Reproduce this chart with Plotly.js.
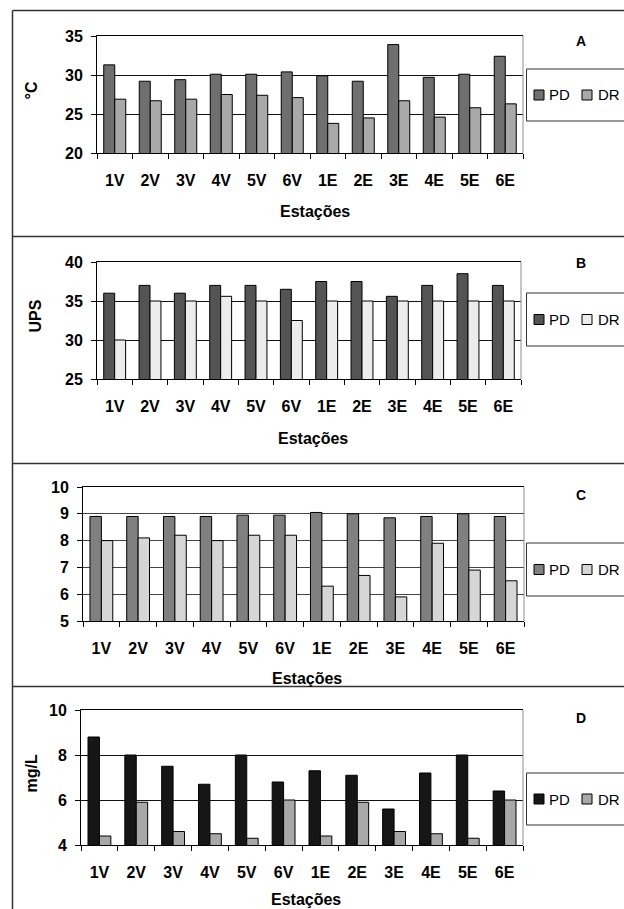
<!DOCTYPE html>
<html>
<head>
<meta charset="utf-8">
<script src="https://cdn.plot.ly/plotly-3.0.1.min.js"></script>
<style>
  html, body { margin: 0; padding: 0; background: #fff; }
  #chart { width: 624px; height: 909px; }
</style>
</head>
<body>
<div id="chart"></div>
<script>
// ---- data ----
const estacoes = ['1V','2V','3V','4V','5V','6V','1E','2E','3E','4E','5E','6E'];
const seriesNames = ['PD', 'DR'];
const panelLetters = ['A', 'B', 'C', 'D'];
const yTitles = ['°C', 'UPS', '', 'mg/L'];
const xTitle = 'Estações';

const tempPD = [31.3, 29.2, 29.4, 30.1, 30.1, 30.4, 29.9, 29.2, 33.9, 29.7, 30.1, 32.4];
const tempDR = [26.9, 26.7, 26.9, 27.5, 27.4, 27.1, 23.8, 24.5, 26.7, 24.6, 25.8, 26.3];

const salPD = [36.0, 37.0, 36.0, 37.0, 37.0, 36.5, 37.5, 37.5, 35.6, 37.0, 38.5, 37.0];
const salDR = [30.0, 35.0, 35.0, 35.6, 35.0, 32.5, 35.0, 35.0, 35.0, 35.0, 35.0, 35.0];

const phPD = [8.9, 8.9, 8.9, 8.9, 8.95, 8.95, 9.05, 9.0, 8.85, 8.9, 9.0, 8.9];
const phDR = [8.0, 8.1, 8.2, 8.0, 8.2, 8.2, 6.3, 6.7, 5.9, 7.9, 6.9, 6.5];

const odPD = [8.8, 8.0, 7.5, 6.7, 8.0, 6.8, 7.3, 7.1, 5.6, 7.2, 8.0, 6.4];
const odDR = [4.4, 5.9, 4.6, 4.5, 4.3, 6.0, 4.4, 5.9, 4.6, 4.5, 4.3, 6.0];

// ---- layout helpers (pixel -> paper) ----
const W = 624, H = 909;
const px = v => v / W;
const py = v => 1 - v / H;

const panels = [
  { pd: tempPD, dr: tempDR, range: [20, 35], dtick: 5, colors: ['#6f6f6f', '#a9a9a9'], grid: '#111',
    plot: [97, 523, 36, 153], titleY: 212, titleX: 315, yTitleX: 31, legend: [69, 121], letterY: 41 },
  { pd: salPD, dr: salDR, range: [25, 40], dtick: 5, colors: ['#545454', '#ececec'], grid: '#111',
    plot: [97, 521, 262, 379], titleY: 438, titleX: 313, yTitleX: 35, legend: [293, 346], letterY: 263 },
  { pd: phPD, dr: phDR, range: [5, 10], dtick: 1, colors: ['#808080', '#d6d6d6'], grid: '#444',
    plot: [83, 524, 487, 621], titleY: 678, titleX: 307, yTitleX: 31, legend: [543, 596], letterY: 495 },
  { pd: odPD, dr: odDR, range: [4, 10], dtick: 2, colors: ['#161616', '#a8a8a8'], grid: '#111',
    plot: [81, 523, 710, 845], titleY: 899, titleX: 306, yTitleX: 31, legend: [773, 825], letterY: 718 }
];

const font = 'Liberation Sans, Arial, sans-serif';
const data = [];
const layout = {
  width: W, height: H,
  margin: { l: 0, r: 0, t: 0, b: 0 },
  paper_bgcolor: '#fff', plot_bgcolor: '#fff',
  showlegend: false,
  barmode: 'group', bargap: 0.38, bargroupgap: 0,
  font: { family: font, color: '#000' },
  shapes: [], annotations: []
};

panels.forEach((p, i) => {
  const sfx = i === 0 ? '' : String(i + 1);
  const [x0, x1, y0, y1] = p.plot;
  [p.pd, p.dr].forEach((vals, k) => {
    data.push({
      type: 'bar', name: seriesNames[k], x: estacoes, y: vals,
      xaxis: 'x' + sfx, yaxis: 'y' + sfx,
      marker: { color: p.colors[k], line: { color: '#000', width: 1 } },
      hoverinfo: 'skip'
    });
  });
  layout['xaxis' + sfx] = {
    domain: [px(x0), px(x1)], anchor: 'y' + sfx, type: 'category',
    showgrid: false, showline: true, linecolor: '#000', linewidth: 1, mirror: true,
    ticks: 'outside', ticklen: 5, tickcolor: '#000', tickson: 'boundaries',
    tickfont: { family: font, size: 16, color: '#000', weight: 'bold' },
    ticklabelstandoff: 13, fixedrange: true
  };
  layout['yaxis' + sfx] = {
    domain: [py(y1), py(y0)], anchor: 'x' + sfx, range: p.range, dtick: p.dtick, tick0: p.range[0],
    showgrid: true, gridcolor: p.grid, gridwidth: 1, zeroline: false,
    showline: true, linecolor: '#000', linewidth: 1,
    ticks: 'outside', ticklen: 5, tickcolor: '#000',
    tickfont: { family: font, size: 16, color: '#000', weight: 'bold' },
    ticklabelstandoff: 5, fixedrange: true
  };
  // right frame (grey)
  layout.shapes.push({ type: 'line', xref: 'paper', yref: 'paper',
    x0: px(x1), x1: px(x1), y0: py(y0), y1: py(y1), line: { color: '#8c8c8c', width: 1 } });
  // x title
  layout.annotations.push({ xref: 'paper', yref: 'paper', x: px(p.titleX), y: py(p.titleY),
    text: xTitle, showarrow: false, xanchor: 'center', yanchor: 'middle', borderpad: 0,
    font: { family: font, size: 16, color: '#000', weight: 'bold' } });
  // y title
  if (yTitles[i]) {
    layout.annotations.push({ xref: 'paper', yref: 'paper', x: px(p.yTitleX), y: py((y0 + y1) / 2 - 4),
      text: yTitles[i], showarrow: false, textangle: -90, xanchor: 'center', yanchor: 'middle',
      font: { family: font, size: 16, color: '#000', weight: 'bold' } });
  }
  // panel letter
  layout.annotations.push({ xref: 'paper', yref: 'paper', x: px(581), y: py(p.letterY),
    text: panelLetters[i], showarrow: false, xanchor: 'center', yanchor: 'middle',
    font: { family: font, size: 14, color: '#000', weight: 'bold' } });
  // legend box
  const [ly0, ly1] = p.legend;
  const cy = (ly0 + ly1) / 2;
  layout.shapes.push({ type: 'rect', xref: 'paper', yref: 'paper',
    x0: px(526.5), x1: px(660), y0: py(ly0), y1: py(ly1), line: { color: '#333', width: 1 }, fillcolor: 'rgba(0,0,0,0)' });
  const sqX = [534, 582], txX = [548, 597];
  [0, 1].forEach(k => {
    layout.shapes.push({ type: 'rect', xref: 'paper', yref: 'paper',
      x0: px(sqX[k]), x1: px(sqX[k] + 10), y0: py(cy - 5), y1: py(cy + 5),
      line: { color: '#000', width: 1 }, fillcolor: p.colors[k] });
    layout.annotations.push({ xref: 'paper', yref: 'paper', x: px(txX[k]), y: py(cy),
      text: seriesNames[k], showarrow: false, xanchor: 'left', yanchor: 'middle', borderpad: 0,
      font: { family: font, size: 15, color: '#000' } });
  });
});

// panel frames
[10.5, 236.5, 463.5, 686.5].forEach(y => {
  layout.shapes.push({ type: 'line', xref: 'paper', yref: 'paper',
    x0: px(12.5), x1: 1.02, y0: py(y), y1: py(y), line: { color: '#333', width: 1.5 } });
});
layout.shapes.push({ type: 'line', xref: 'paper', yref: 'paper',
  x0: px(12.5), x1: px(12.5), y0: py(10.5), y1: -0.02, line: { color: '#333', width: 1.5 } });

Plotly.newPlot('chart', data, layout, { displayModeBar: false, staticPlot: true });
</script>
</body>
</html>
